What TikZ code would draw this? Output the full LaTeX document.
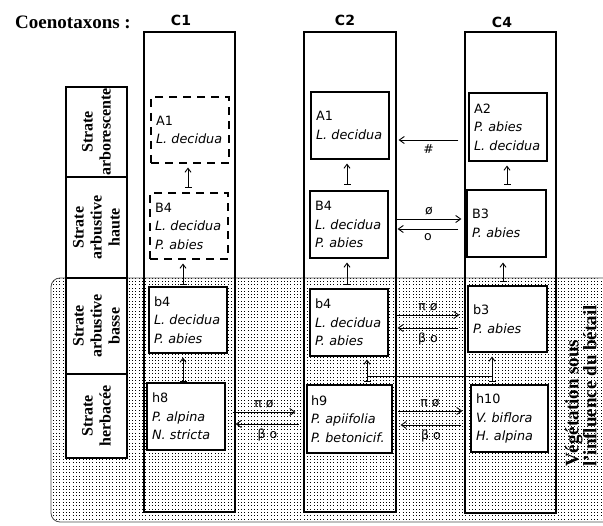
\documentclass[tikz,border=0pt]{standalone}
\usepackage{fontspec}
\setmainfont{Liberation Serif}
\newfontfamily\sansf{DejaVu Sans}
\usetikzlibrary{arrows.meta,patterns}
\hyphenpenalty=10000
\exhyphenpenalty=10000
\pgfdeclarepatternformonly{stipple}{\pgfqpoint{-1pt}{-1pt}}{\pgfqpoint{2.3pt}{2.3pt}}{\pgfqpoint{3.3pt}{3.3pt}}%
  {\pgfpathrectangle{\pgfqpoint{0pt}{0pt}}{\pgfqpoint{0.85pt}{0.85pt}}\pgfusepath{fill}}
\begin{document}
\begin{tikzpicture}[x=1pt,y=-1pt,
  sp/.style={draw, fill=white, line width=1.1pt, inner xsep=5pt, inner ysep=0pt,
    text width=68pt, minimum height=66pt, align=left,
    font=\sansf\fontsize{12.8}{18.5}\selectfont},
  dsh/.style={sp, dash pattern=on 8pt off 6pt},
  col/.style={draw, line width=2pt, minimum width=91pt, minimum height=480pt, inner sep=0pt},
  strate/.style={draw, fill=white, line width=1.1pt, rotate=90, minimum height=61pt,
    inner sep=0pt, align=center, font=\bfseries\fontsize{16}{18}\selectfont},
  colabel/.style={font=\sansf\bfseries\fontsize{14}{16}\selectfont},
  lab/.style={font=\sansf\fontsize{12.5}{13}\selectfont, inner sep=1pt},
  varr/.style={line width=0.9pt, {Bar[width=7pt,line width=0.9pt]}-{Straight Barb[length=4pt,width=6pt]}},
  harr/.style={line width=0.9pt, -{Straight Barb[length=5pt,width=7pt]}}]
\useasboundingbox (0,0) rectangle (603,526);

% stippled zone
\path[pattern=stipple, pattern color=black, rounded corners=9pt]
  (604,278) -- (51,278) -- (51,522) -- (604,522) -- cycle;
\draw[line width=0.8pt, black!70, rounded corners=9pt]
  (604,278) -- (51,278) -- (51,522) -- (604,522);

% title and column labels
\node[font=\bfseries\fontsize{19}{22}\selectfont, inner sep=0pt] (title) at (73,22) {Coenotaxons :};
\node[colabel] (l1) at (181,20) {C1};
\node[colabel] (l2) at (345,20) {C2};
\node[colabel] (l4) at (502,22) {C4};

% columns
\node[col] (c1) at (189.5,272) {};
\node[col, minimum width=92pt] (c2) at (350,272) {};
\node[col, minimum height=481pt] (c4) at (510.5,272.5) {};

% strata
\node[strate, minimum width=90pt] (s1) at (96.5,132) {Strate\\arborescente};
\node[strate, minimum width=101pt] (s2) at (96.5,227.5) {Strate\\arbustive\\haute};
\node[strate, minimum width=96pt] (s3) at (96.5,326) {Strate\\arbustive\\basse};
\node[strate, minimum width=84pt] (s4) at (96.5,416) {Strate\\herbacée};

% C1
\node[dsh] (A1a) at (190,130) {A1\\\itshape L. decidua};
\node[dsh] (B4a) at (189,226) {B4\\\itshape L. decidua\\\itshape P. abies};
\node[sp] (b4a) at (188,320) {b4\\\itshape L. decidua\\\itshape P. abies};
\node[sp, minimum height=67pt] (h8) at (186,416.5) {h8\\\itshape P. alpina\\\itshape N. stricta};

% C2
\node[sp, minimum height=67pt] (A1b) at (350,125.5) {A1\\\itshape L. decidua};
\node[sp, minimum height=67pt] (B4b) at (349,224.5) {B4\\\itshape L. decidua\\\itshape P. abies};
\node[sp, minimum height=67pt] (b4b) at (349,322.5) {b4\\\itshape L. decidua\\\itshape P. abies};
\node[sp, minimum height=68pt, inner xsep=4pt, text width=77pt] (h9) at (349.5,419) {h9\\\itshape P. apiifolia\\\itshape P. betonicif.};

% C4
\node[sp, minimum height=68pt] (A2) at (508,127) {A2\\\itshape P. abies\\\itshape L. decidua};
\node[sp, minimum height=67pt, text width=69pt] (B3) at (506.5,223.5) {B3\\\itshape P. abies};
\node[sp, text width=69pt] (b3) at (507.5,319) {b3\\\itshape P. abies};
\node[sp, minimum height=67pt, text width=67pt] (h10) at (509.5,418.5) {h10\\\itshape V. biflora\\\itshape H. alpina};

% right caption
\node[rotate=90, anchor=west, inner sep=0pt, align=left,
  font=\bfseries\fontsize{19}{18}\selectfont] (veg) at (581,467)
  {Végétation sous\\l'influence du bétail};

% vertical arrows
\draw[varr] ([xshift=-1pt,yshift=5pt]B4a.north) -- ([xshift=-2pt,yshift=-4pt]A1a.south);
\draw[varr] ([xshift=-5pt,yshift=2pt]b4a.north) -- ([xshift=-6pt,yshift=-4pt]B4a.south);
\draw[varr] ([xshift=-3pt,yshift=1pt]h8.north) -- ([xshift=-5pt,yshift=-4pt]b4a.south);

\draw[varr] ([xshift=-2pt,yshift=6pt]B4b.north) -- ([xshift=-3pt,yshift=-4pt]A1b.south);
\draw[varr] ([xshift=-2pt,yshift=4pt]b4b.north) -- ([xshift=-2pt,yshift=-4pt]B4b.south);
\draw[varr] ([xshift=17.5pt,yshift=3pt]h9.north) -- ([xshift=18pt,yshift=-3pt]b4b.south);

\draw[varr] ([xshift=0.5pt,yshift=5pt]B3.north) -- ([xshift=-1pt,yshift=-4pt]A2.south);
\draw[varr] ([xshift=-4.5pt,yshift=4pt]b3.north) -- ([xshift=-3.5pt,yshift=-5pt]B3.south);
\draw[varr] ([xshift=-17.5pt,yshift=3pt]h10.north) -- ([xshift=-15.5pt,yshift=-4pt]b3.south);
\draw[line width=0.9pt] ([xshift=17.5pt,yshift=8pt]h9.north) -- ([xshift=-17.5pt,yshift=8pt]h10.north);

% horizontal arrows
\draw[harr] ([xshift=-10pt,yshift=-13pt]A2.west) -- node[lab, below=3pt] {\#} ([xshift=9pt,yshift=-14.5pt]A1b.east);
\draw[harr] ([xshift=8pt,yshift=5.5pt]B4b.east) -- node[lab, above=2pt] {ø} ([xshift=-5pt,yshift=4.5pt]B3.west);
\draw[harr] ([xshift=-8pt,yshift=-5.5pt]B3.west) -- node[lab, below=3pt] {o} ([xshift=9pt,yshift=-4.5pt]B4b.east);

\draw[harr] ([xshift=8pt,yshift=7.5pt]b4b.east) -- node[lab, above=2pt] {π ø} ([xshift=-8pt,yshift=4pt]b3.west);
\draw[harr] ([xshift=-9pt,yshift=-9pt]b3.west) -- node[lab, below=3pt] {β o} ([xshift=9pt,yshift=-5.5pt]b4b.east);

\draw[harr] ([xshift=7pt,yshift=4.5pt]h8.east) -- node[lab, above=2pt] {π ø} ([xshift=-11pt,yshift=7pt]h9.west);
\draw[harr] ([xshift=-7pt,yshift=-5pt]h9.west) -- node[lab, below=3pt] {β o} ([xshift=10pt,yshift=-7.5pt]h8.east);

\draw[harr] ([xshift=5pt,yshift=8pt]h9.east) -- node[lab, above=2pt] {π ø} ([xshift=-8pt,yshift=7.5pt]h10.west);
\draw[harr] ([xshift=-9pt,yshift=-6.5pt]h10.west) -- node[lab, below=3pt] {β o} ([xshift=8pt,yshift=-6pt]h9.east);
\end{tikzpicture}
\end{document}
